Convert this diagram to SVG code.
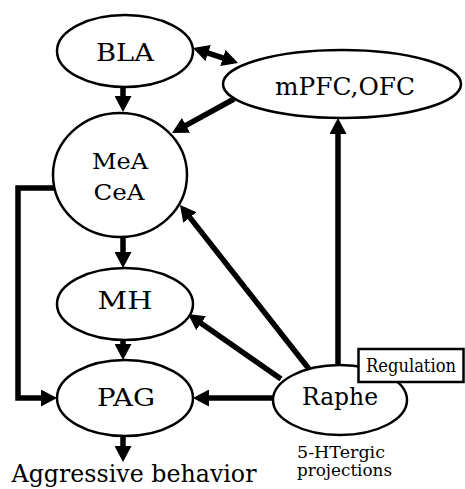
<svg xmlns="http://www.w3.org/2000/svg" width="465" height="489" viewBox="0 0 465 489">
<style>
.node{fill:#fff;stroke:#000;stroke-width:2.5}
text{fill:#000}
.lbl{text-anchor:middle}
.edge{fill:none;stroke:#000;stroke-width:5.5}
</style>
<defs>
<marker id="ah" markerUnits="userSpaceOnUse" markerWidth="16" markerHeight="17" viewBox="0 0 16 17" refX="11" refY="8.5" orient="auto-start-reverse">
<path d="M0,0 L16,8.5 L0,17 z" fill="#000"/>
</marker>
</defs>
<rect width="465" height="489" fill="#fff"/>
<g id="connectors">
<line class="edge" x1="123" y1="87" x2="123" y2="107" marker-end="url(#ah)"/>
<line class="edge" x1="197.7" y1="49.6" x2="233.3" y2="61.4" marker-start="url(#ah)" marker-end="url(#ah)"/>
<line class="edge" x1="234" y1="99" x2="176.4" y2="130.6" marker-end="url(#ah)"/>
<line class="edge" x1="338" y1="367" x2="338" y2="123" marker-end="url(#ah)"/>
<line class="edge" x1="309" y1="369" x2="183.1" y2="208.9" marker-end="url(#ah)"/>
<line class="edge" x1="281" y1="379" x2="192.1" y2="316.9" marker-end="url(#ah)"/>
<line class="edge" x1="274" y1="398" x2="198" y2="398" marker-end="url(#ah)"/>
<line class="edge" x1="123" y1="237" x2="123" y2="263" marker-end="url(#ah)"/>
<line class="edge" x1="123" y1="340" x2="123" y2="355" marker-end="url(#ah)"/>
<polyline class="edge" points="54,188 18,188 18,398 52,398" marker-end="url(#ah)"/>
<line class="edge" x1="123" y1="436" x2="123" y2="457" marker-end="url(#ah)"/>
</g>
<g font-family="'DejaVu Serif', 'Liberation Serif', serif">
<g id="BLA">
<ellipse class="node" cx="125" cy="51" rx="68" ry="36"/>
<text class="lbl" x="125" y="61" font-size="24" textLength="58" lengthAdjust="spacingAndGlyphs">BLA</text>
</g>
<g id="mPFC">
<ellipse class="node" cx="342" cy="84" rx="119" ry="34"/>
<text class="lbl" x="345" y="95" font-size="24" textLength="140" lengthAdjust="spacingAndGlyphs">mPFC,OFC</text>
</g>
<g id="MeA">
<ellipse class="node" cx="120" cy="175" rx="67" ry="62"/>
<text class="lbl" x="120" y="169" font-size="22" textLength="56" lengthAdjust="spacingAndGlyphs">MeA</text>
<text class="lbl" x="119" y="200" font-size="22" textLength="51" lengthAdjust="spacingAndGlyphs">CeA</text>
</g>
<g id="MH">
<ellipse class="node" cx="125" cy="304" rx="68" ry="36"/>
<text class="lbl" x="125" y="309" font-size="24" textLength="55" lengthAdjust="spacingAndGlyphs">MH</text>
</g>
<g id="PAG">
<ellipse class="node" cx="125" cy="398" rx="68" ry="38"/>
<text class="lbl" x="126" y="406" font-size="24" textLength="58" lengthAdjust="spacingAndGlyphs">PAG</text>
</g>
<g id="Raphe">
<ellipse class="node" cx="340" cy="400" rx="67" ry="35"/>
<text class="lbl" x="340" y="405" font-size="24" textLength="76" lengthAdjust="spacingAndGlyphs">Raphe</text>
</g>
<g id="Regulation">
<rect class="node" x="358.5" y="349" width="105" height="33" stroke-width="2"/>
<text class="lbl" x="411" y="372" font-size="18" textLength="90" lengthAdjust="spacingAndGlyphs">Regulation</text>
</g>
<text class="lbl" x="134" y="482" font-size="25" textLength="245" lengthAdjust="spacingAndGlyphs">Aggressive behavior</text>
<text x="297" y="458" font-size="16" textLength="88" lengthAdjust="spacingAndGlyphs">5-HTergic</text>
<text x="297" y="476" font-size="16" textLength="95" lengthAdjust="spacingAndGlyphs">projections</text>
</g>
</svg>
